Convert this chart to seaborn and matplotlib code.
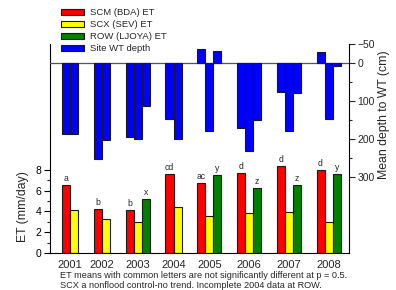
import numpy as np
import pandas as pd
import matplotlib
matplotlib.use("Agg")
import matplotlib.pyplot as plt
from matplotlib.patches import Patch
from matplotlib.ticker import FixedLocator
import seaborn as sns

# ---- data ----
years = ["2001", "2002", "2003", "2004", "2005", "2006", "2007", "2008"]
series = ["SCM (BDA) ET", "SCX (SEV) ET", "ROW (LJOYA) ET"]
scm_et = [6.57, 4.26, 4.10, 7.60, 6.73, 7.69, 8.33, 8.00]
scx_et = [4.16, 3.23, 2.94, 4.39, 3.52, 3.85, 3.94, 2.94]
row_et = [np.nan, np.nan, 5.15, np.nan, 7.46, 6.25, 6.57, 7.62]
scm_wt = [187, 253, 195, 147, -37, 171, 76, -28]
scx_wt = [187, 203, 200, 200, 179, 232, 179, 147]
row_wt = [np.nan, np.nan, 113, np.nan, -32, 150, 80, 7]
scm_letters = ["a", "b", "b", "cd", "ac", "d", "d", "d"]
row_letters = ["", "", "x", "", "y", "z", "z", "y"]
wt_label = "Site WT depth"
et_ylabel = "ET (mm/day)"
wt_ylabel = "Mean depth to WT (cm)"
note1 = "ET means with common letters are not significantly different at p = 0.5."
note2 = "SCX a nonflood control-no trend. Incomplete 2004 data at ROW."

colors = {"SCM (BDA) ET": "#ff0000", "SCX (SEV) ET": "#ffff00", "ROW (LJOYA) ET": "#008000"}
wt_color = "#0000ff"

# ---- build long table with sequential bar slots ----
gap = 1.9
rows = []
pos = 0.0
centers = []
et_cols = [scm_et, scx_et, row_et]
wt_cols = [scm_wt, scx_wt, row_wt]
let_cols = [scm_letters, [""] * len(years), row_letters]
for i, yr in enumerate(years):
    start = pos
    for s, name in enumerate(series):
        if np.isnan(et_cols[s][i]):
            continue
        rows.append(dict(year=yr, series=name, slot=pos, ET=et_cols[s][i],
                         WT=wt_cols[s][i], letter=let_cols[s][i]))
        pos += 1
    centers.append((start + pos - 1) / 2)
    pos += gap
df = pd.DataFrame(rows)

sns.set_theme(style="white")
plt.rcParams["font.family"] = ["Liberation Sans", "DejaVu Sans"]

fig = plt.figure(figsize=(3.96, 2.9), dpi=100)
ax = fig.add_axes([50 / 396, 1 - 253 / 290, (349 - 50) / 396, (253 - 44) / 290])
ax2 = ax.twinx()

edge = dict(edgecolor="#1a1a1a", linewidth=0.8)
sns.barplot(data=df, x="slot", y="ET", hue="series", palette=colors, dodge=False,
            native_scale=True, width=1.0, errorbar=None, legend=False, ax=ax,
            saturation=1, **edge)
sns.barplot(data=df, x="slot", y="WT", color=wt_color, native_scale=True, width=1.0,
            errorbar=None, ax=ax2, saturation=1, **edge)

ax2.axhline(0, color="#555555", lw=0.9, zorder=0.5)

xmin = df["slot"].min() - 2.0
xmax = df["slot"].max() + 1.5
ax.set_xlim(xmin, xmax)
ax2.set_xlim(xmin, xmax)

ax.set_ylim(0, 20.1)
ax2.set_ylim(500, -50)

ax.yaxis.set_major_locator(FixedLocator([0, 2, 4, 6, 8]))
ax.yaxis.set_minor_locator(FixedLocator([1, 3, 5, 7]))
ax2.yaxis.set_major_locator(FixedLocator([-50, 0, 100, 200, 300]))
ax2.yaxis.set_minor_locator(FixedLocator([50, 150, 250]))

ax.set_xticks(centers)
ax.set_xticklabels(years, fontsize=8)
ax.tick_params(axis="x", length=0, pad=5)
ax.tick_params(axis="y", which="major", direction="out", length=4, width=0.8,
               labelsize=7.5, pad=2, left=True, colors="black")
ax.tick_params(axis="y", which="minor", direction="out", length=2.5, width=0.8, left=True)
ax2.tick_params(axis="y", which="major", direction="out", length=4, width=0.8,
                labelsize=7.5, pad=2, right=True)
ax2.tick_params(axis="y", which="minor", direction="out", length=2.5, width=0.8, right=True)

ax.set_xlabel("")
ax.set_ylabel("")
ax2.set_xlabel("")
ax2.set_ylabel("")

for a in (ax, ax2):
    a.spines["top"].set_visible(False)
    for sp in a.spines.values():
        sp.set_color("black")
        sp.set_linewidth(0.8)
ax2.spines["left"].set_visible(False)
ax2.spines["bottom"].set_visible(False)
ax.spines["right"].set_visible(False)

# letters above bars
for _, r in df.iterrows():
    if r["letter"]:
        ax.annotate(r["letter"], (r["slot"], r["ET"]), xytext=(0, 1.5),
                    textcoords="offset points", ha="center", va="bottom", fontsize=6.2)

fig.text(23 / 396, 1 - 207 / 290, et_ylabel, rotation=90, ha="center", va="center", fontsize=8.8)
fig.text(384 / 396, 1 - 115 / 290, wt_ylabel, rotation=90, ha="center", va="center", fontsize=8.8)

handles = [Patch(facecolor=colors[s], **edge) for s in series] + [Patch(facecolor=wt_color, **edge)]
labels = series + [wt_label]
fig.legend(handles, labels, loc="upper left", bbox_to_anchor=(58 / 396, 1 - 5.5 / 290),
           frameon=False, fontsize=6.8, handlelength=2.44, handleheight=0.64,
           labelspacing=0.32, handletextpad=0.64, borderaxespad=0, borderpad=0.3)

fig.text(60 / 396, 1 - 275 / 290, note1, ha="left", va="center", fontsize=6.6)
fig.text(60 / 396, 1 - 285 / 290, note2, ha="left", va="center", fontsize=6.6)

fig.savefig("out.png", dpi=100)
